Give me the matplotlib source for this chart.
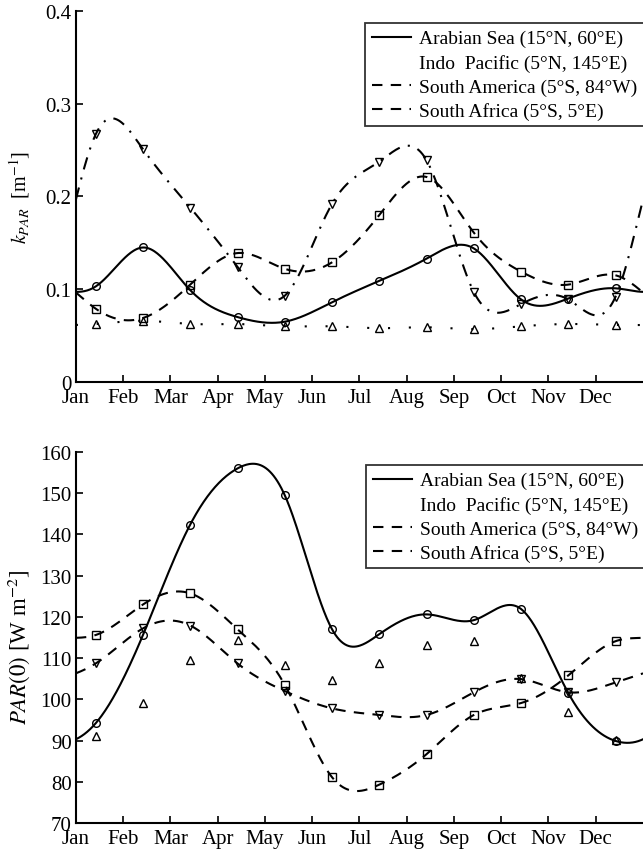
import numpy as np
import matplotlib
matplotlib.use("Agg")
import matplotlib.pyplot as plt
from matplotlib.lines import Line2D

plt.rcParams['font.family'] = ['Liberation Serif', 'DejaVu Serif']
plt.rcParams['mathtext.fontset'] = 'stix'

# data: monthly values (mid-month)
months = ['Jan', 'Feb', 'Mar', 'Apr', 'May', 'Jun',
          'Jul', 'Aug', 'Sep', 'Oct', 'Nov', 'Dec']

k_arabian = [0.103, 0.145, 0.099, 0.070, 0.065, 0.086,
             0.109, 0.133, 0.144, 0.089, 0.090, 0.101]
k_indo = [0.0625, 0.066, 0.0625, 0.0625, 0.060, 0.060,
          0.058, 0.059, 0.057, 0.060, 0.0625, 0.0615]
k_samerica = [0.079, 0.069, 0.105, 0.139, 0.122, 0.129,
              0.180, 0.221, 0.161, 0.119, 0.105, 0.115]
k_safrica = [0.267, 0.251, 0.188, 0.124, 0.093, 0.192,
             0.2375, 0.239, 0.097, 0.084, 0.089, 0.092]

par_arabian = [94.2, 115.6, 142.4, 156.0, 149.5, 117.0,
               115.8, 120.6, 119.2, 121.9, 101.5, 89.9]
par_indo = [91.0, 99.1, 109.5, 114.4, 108.3, 104.7,
            108.7, 113.2, 114.1, 105.2, 97.0, 90.2]
par_samerica = [115.6, 123.0, 125.7, 117.0, 103.5, 81.1,
                79.3, 86.7, 96.2, 99.1, 105.8, 114.1]
par_safrica = [108.7, 117.2, 117.9, 108.7, 102.0, 97.8,
               96.2, 96.2, 101.7, 104.9, 101.7, 104.1]

labels = ['Arabian Sea (15°N, 60°E)', 'Indo  Pacific (5°N, 145°E)',
          'South America (5°S, 84°W)', 'South Africa (5°S, 5°E)']

x_pts = np.arange(12) + 0.42


def periodic_spline(y, t):
    # periodic cubic spline through equally spaced points (period 12)
    y = np.asarray(y, float)
    n = len(y)
    A = np.zeros((n, n))
    rhs = np.zeros(n)
    for i in range(n):
        A[i, i] = 4
        A[i, (i - 1) % n] = 1
        A[i, (i + 1) % n] = 1
        rhs[i] = 6 * (y[(i - 1) % n] - 2 * y[i] + y[(i + 1) % n])
    M = np.linalg.solve(A, rhs)
    s = (t - x_pts[0]) % n
    i = np.floor(s).astype(int) % n
    u = s - np.floor(s)
    j = (i + 1) % n
    return (M[i] * (1 - u) ** 3 / 6 + M[j] * u ** 3 / 6
            + (y[i] - M[i] / 6) * (1 - u) + (y[j] - M[j] / 6) * u)


t = np.linspace(0, 12, 600)

fig = plt.figure(figsize=(6.43, 8.53), dpi=100)
ax1 = fig.add_axes([0.118, 0.551, 0.882, 0.435])
ax2 = fig.add_axes([0.118, 0.034, 0.882, 0.435])

ls_sa = (0, (5, 4))
ls_af = (0, (6, 4, 1, 4))
mk = dict(fillstyle='none', color='black', markersize=5.5, markeredgewidth=1.0, linestyle='none')

# top panel
ax1.plot(t, periodic_spline(k_arabian, t), color='black', lw=1.5)
ax1.plot(t, periodic_spline(k_indo, t), color='black', lw=1.5, ls=(0, (1, 9)))
ax1.plot(t, periodic_spline(k_samerica, t), color='black', lw=1.5, ls=ls_sa)
ax1.plot(t, periodic_spline(k_safrica, t), color='black', lw=1.5, ls=ls_af)
ax1.plot(x_pts, k_arabian, marker='o', **mk)
ax1.plot(x_pts, k_indo, marker='^', **mk)
ax1.plot(x_pts, k_samerica, marker='s', **mk)
ax1.plot(x_pts, k_safrica, marker='v', **mk)
ax1.set_ylim(0, 0.4)
ax1.set_yticks([0, 0.1, 0.2, 0.3, 0.4])
ax1.set_yticklabels(['0', '0.1', '0.2', '0.3', '0.4'])
ax1.set_ylabel(r'$k_{PAR}$  [m$^{-1}$]', fontsize=14.5)

# bottom panel
ax2.plot(t, periodic_spline(par_arabian, t), color='black', lw=1.5)
ax2.plot(t, periodic_spline(par_samerica, t), color='black', lw=1.5, ls=ls_sa)
ax2.plot(t, periodic_spline(par_safrica, t), color='black', lw=1.5, ls=ls_sa)
ax2.plot(x_pts, par_arabian, marker='o', **mk)
ax2.plot(x_pts, par_indo, marker='^', **mk)
ax2.plot(x_pts, par_samerica, marker='s', **mk)
ax2.plot(x_pts, par_safrica, marker='v', **mk)
ax2.set_ylim(70, 160)
ax2.set_yticks(np.arange(70, 161, 10))
ax2.set_ylabel(r'$PAR(0)$ [W m$^{-2}$]', fontsize=16.5)

handles = [Line2D([], [], color='black', lw=1.5),
           Line2D([], [], color='none', lw=1.5),
           Line2D([], [], color='black', lw=1.5, ls=ls_sa),
           Line2D([], [], color='black', lw=1.5, ls=ls_sa)]

for ax, anchor in [(ax1, (0.5677, 0.9719)), (ax2, (0.569, 0.4537))]:
    ax.set_xlim(0, 12)
    ax.set_xticks(range(12))
    ax.set_xticklabels(months)
    for side in ['top', 'right']:
        ax.spines[side].set_visible(False)
    for side in ['left', 'bottom']:
        ax.spines[side].set_linewidth(1.5)
    ax.tick_params(direction='in', length=5, width=1.2, labelsize=15, pad=3)
    ax.tick_params(axis='x', pad=4)
    leg = ax.legend(handles, labels, loc='upper left', bbox_to_anchor=anchor,
                    bbox_transform=fig.transFigure, fontsize=14, frameon=True,
                    fancybox=False, edgecolor='black', borderaxespad=0,
                    handlelength=2.0, handletextpad=0.45, labelspacing=0.32,
                    borderpad=0.35)
    leg.get_frame().set_linewidth(1.3)

ax1.yaxis.set_label_coords(-0.078, 0.5)
ax2.yaxis.set_label_coords(-0.078, 0.477)

fig.savefig('out.png', dpi=100)
